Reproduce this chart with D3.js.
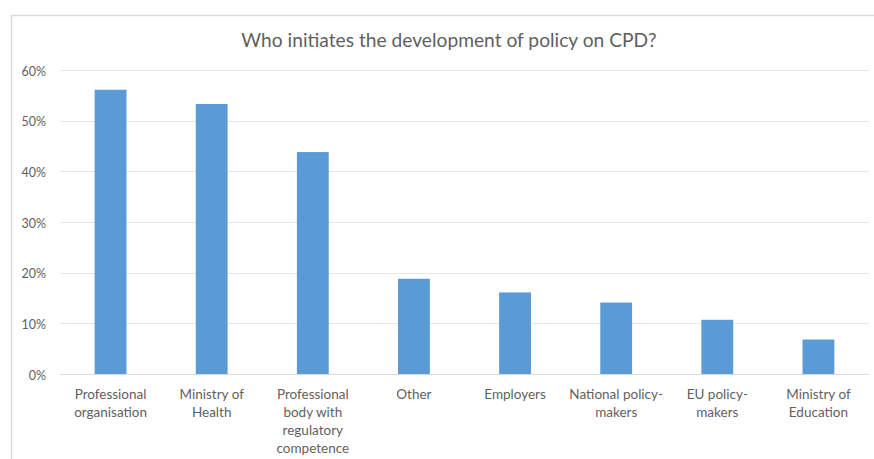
<!DOCTYPE html>
<html>
<head>
<meta charset="utf-8">
<script src="https://cdn.jsdelivr.net/npm/d3@7"></script>
<style>
  html, body { margin: 0; padding: 0; background: #fff; }
  svg { display: block; }
</style>
</head>
<body>
<svg id="chart" width="874" height="459"></svg>
<script>
const title = "Who initiates the development of policy on CPD?";
const categories = [
  "Professional\norganisation",
  "Ministry of\nHealth",
  "Professional\nbody with\nregulatory\ncompetence",
  "Other",
  "Employers",
  "National policy-\nmakers",
  "EU policy-\nmakers",
  "Ministry of\nEducation"
];
const values = [0.561, 0.533, 0.438, 0.188, 0.161, 0.141, 0.107, 0.068];
const yTicks = [0, 0.1, 0.2, 0.3, 0.4, 0.5, 0.6];

const svg = d3.select("#chart");
const W = 874, H = 459;
const x0 = 60, x1 = 869, yTop = 70, yBottom = 374;
const font = "Lato, 'Open Sans', sans-serif";
const textColor = "#5f5f5f";

// Chart border (top and left visible)
svg.append("line").attr("x1", 11).attr("x2", W).attr("y1", 15.5).attr("y2", 15.5)
  .attr("stroke", "#d9d9d9").attr("stroke-width", 1.5);
svg.append("line").attr("x1", 11.5).attr("x2", 11.5).attr("y1", 15).attr("y2", H)
  .attr("stroke", "#d9d9d9").attr("stroke-width", 1.5);

const x = d3.scaleBand().domain(categories).range([x0, x1]).paddingInner(0.685).paddingOuter(0.3425);
const y = d3.scaleLinear().domain([0, 0.6]).range([yBottom, yTop]);

// Gridlines
svg.append("g").selectAll("line").data(yTicks).join("line")
  .attr("x1", x0).attr("x2", x1)
  .attr("y1", d => Math.round(y(d)) + 0.5).attr("y2", d => Math.round(y(d)) + 0.5)
  .attr("stroke", d => d === 0 ? "#d9d9d9" : "#e6e6e6").attr("stroke-width", 1);

// Y axis labels
const yAxis = d3.axisLeft(y).tickValues(yTicks).tickFormat(d3.format(".0%")).tickSize(0).tickPadding(0);
const gy = svg.append("g").attr("transform", `translate(46,0)`).call(yAxis);
gy.select(".domain").remove();
gy.selectAll("text").attr("fill", textColor).style("font-family", font).style("font-size", "12.5px").attr("dy", "0.4em");

// Bars
svg.append("g").selectAll("rect").data(values).join("rect")
  .attr("x", (d, i) => x(categories[i]))
  .attr("width", x.bandwidth())
  .attr("y", d => y(d))
  .attr("height", d => y(0) - y(d))
  .attr("fill", "#5b9bd5");

// X axis labels
const xAxis = d3.axisBottom(x).tickSize(0).tickPadding(0).tickFormat("");
const gx = svg.append("g").attr("transform", `translate(0,${yBottom})`).call(xAxis);
gx.select(".domain").remove();
gx.selectAll(".tick").each(function(d) {
  const t = d3.select(this).append("text")
    .attr("fill", textColor).style("font-family", font).style("font-size", "13.5px")
    .attr("text-anchor", "middle");
  d.split("\n").forEach((line, i) => {
    t.append("tspan").attr("x", 0).attr("y", 25 + i * 18).text(line);
  });
});

// Title
svg.append("text").attr("x", 449).attr("y", 47).attr("text-anchor", "middle")
  .attr("fill", textColor).style("font-family", font).style("font-size", "19.2px")
  .text(title);
</script>
</body>
</html>
